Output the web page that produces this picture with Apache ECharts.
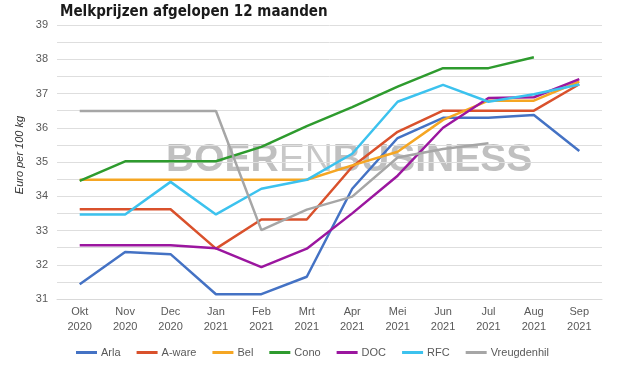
<!DOCTYPE html>
<html>
<head>
<meta charset="utf-8">
<script src="https://cdn.jsdelivr.net/npm/echarts@6/dist/echarts.min.js"></script>
<style>
html,body{margin:0;padding:0;background:#fff;}
#chart{width:625px;height:376px;}
</style>
</head>
<body>
<div id="chart"></div>
<script>
const categories = ['Okt\n2020','Nov\n2020','Dec\n2020','Jan\n2021','Feb\n2021','Mrt\n2021','Apr\n2021','Mei\n2021','Jun\n2021','Jul\n2021','Aug\n2021','Sep\n2021'];
const arla        = [31.43, 32.37, 32.31, 31.14, 31.14, 31.65, 34.22, 35.70, 36.29, 36.29, 36.37, 35.32];
const aware       = [33.62, 33.62, 33.62, 32.47, 33.32, 33.32, 34.86, 35.88, 36.50, 36.50, 36.50, 37.27];
const bel         = [34.48, 34.48, 34.48, 34.48, 34.48, 34.48, 34.90, 35.30, 36.23, 36.79, 36.79, 37.35];
const cono        = [34.45, 35.02, 35.02, 35.02, 35.44, 36.05, 36.60, 37.20, 37.74, 37.74, 38.06, null];
const doc         = [32.57, 32.57, 32.57, 32.48, 31.93, 32.47, 33.50, 34.60, 36.00, 36.87, 36.89, 37.42];
const rfc         = [33.47, 33.47, 34.42, 33.47, 34.22, 34.48, 35.24, 36.76, 37.25, 36.76, 36.98, 37.26];
const vreugdenhil = [36.49, 36.49, 36.49, 36.49, 33.01, 33.61, 33.99, 35.13, 35.38, 35.55, null, null];
const seriesNames = ['Arla','A-ware','Bel','Cono','DOC','RFC','Vreugdenhil'];
const seriesData = [arla, aware, bel, cono, doc, rfc, vreugdenhil];
const colors = ['#4472C4','#D9512C','#F5A623','#2E9B2E','#9B169F','#3CC2EE','#A6A6A6'];
const yTicks = [31,32,33,34,35,36,37,38,39];

const chart = echarts.init(document.getElementById('chart'), null, {renderer:'canvas'});
chart.setOption({
  animation:false,
  backgroundColor:'#ffffff',
  color: colors,
  title:{
    text:'Melkprijzen afgelopen 12 maanden',
    left:55, top:0,
    textStyle:{fontFamily:'"DejaVu Sans Condensed","DejaVu Sans",sans-serif', fontWeight:'bold', fontSize:15, color:'#1a1a1a'}
  },
  graphic:[
    {
      type:'text', left:166, top:141, z:-1,
      style:{
        text:'{a|BOER}{b|EN}{a|BUSINESS}',
        rich:{
          a:{fontFamily:'Liberation Sans', fontWeight:'bold', fontSize:39, fill:'#c0c0c0'},
          b:{fontFamily:'Liberation Sans', fontWeight:'normal', fontSize:39, fill:'#c8c8c8'}
        }
      }
    },
    {
      type:'text', x:20, y:155, rotation:Math.PI/2,
      style:{text:'Euro per 100 kg', fontFamily:'Liberation Sans', fontStyle:'italic', fontSize:11, fill:'#333333', align:'center', verticalAlign:'middle'}
    }
  ],
  legend:{
    data:seriesNames,
    bottom:13, left:'center',
    itemWidth:21, itemHeight:3, itemGap:16,
    icon:'rect',
    textStyle:{fontFamily:'Liberation Sans', fontSize:11, color:'#595959', padding:[0,0,0,-1]}
  },
  grid:{left:57, right:23, top:25, bottom:77},
  xAxis:{
    type:'category', data:categories, boundaryGap:true,
    axisLine:{show:true, lineStyle:{color:'#d9d9d9', width:1}},
    axisTick:{show:false},
    axisLabel:{fontFamily:'Liberation Sans', fontSize:11, color:'#595959', lineHeight:15, margin:5, interval:0}
  },
  yAxis:{
    type:'value', min:31, max:39, interval:0.5,
    axisLine:{show:false}, axisTick:{show:false},
    splitLine:{lineStyle:{color:'#dedede', width:1}},
    axisLabel:{fontFamily:'Liberation Sans', fontSize:11, color:'#595959', margin:9,
      formatter:function(v){ return yTicks.indexOf(v) >= 0 ? String(v) : ''; }}
  },
  series: seriesNames.map(function(n,i){
    return {
      name:n, type:'line', data:seriesData[i], showSymbol:false, symbol:'none',
      connectNulls:false, lineStyle:{width:2.5, color:colors[i]}, itemStyle:{color:colors[i]}
    };
  })
});
</script>
</body>
</html>
